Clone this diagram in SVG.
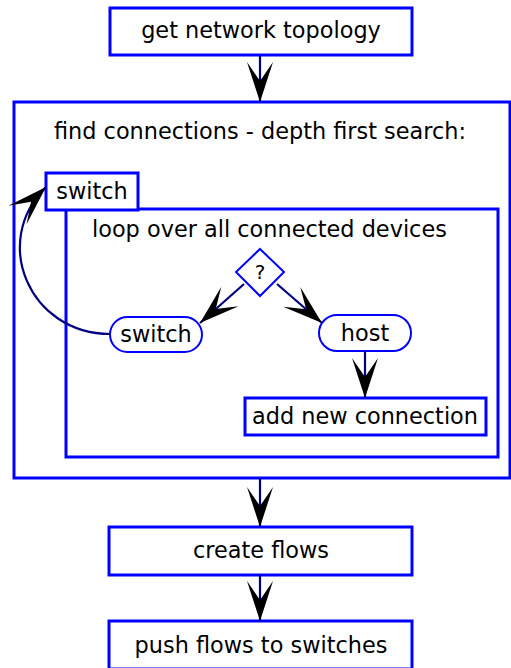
<svg xmlns="http://www.w3.org/2000/svg" width="511" height="668" viewBox="0 0 511 668">
<defs>
<style>
.box{fill:#fff;stroke:#0000ff;stroke-width:3}
.frame{fill:none;stroke:#0000ff;stroke-width:3}
.pill{fill:#fff;stroke:#0000ff;stroke-width:2}
.t{font-family:"DejaVu Sans",sans-serif;font-size:22.4px;fill:#000;dominant-baseline:central}
.c{text-anchor:middle}
.q{font-size:20px}
.edge{fill:none;stroke:#000080;stroke-width:2.2;marker-end:url(#ah)}
</style>
<marker id="ah" markerUnits="userSpaceOnUse" markerWidth="44" markerHeight="28" refX="40" refY="13" orient="auto" overflow="visible">
<path d="M0,0 L40,13 L0,26 L19,13 Z" fill="#000"/>
</marker>
</defs>
<rect width="511" height="668" fill="#fff"/>
<g id="outer"><rect class="frame" x="14" y="102" width="496" height="376"/><text class="t c" x="260" y="131">find connections - depth first search:</text></g>
<g id="loop"><rect class="frame" x="66" y="209" width="432" height="248"/><text class="t" x="92" y="229">loop over all connected devices</text></g>
<g id="top"><rect class="box" x="110" y="8" width="302" height="47"/><text class="t c" x="261" y="30">get network topology</text></g>
<g id="switchbox"><rect class="box" x="46" y="173" width="92" height="37"/><text class="t c" x="92" y="191">switch</text></g>
<g id="decision"><polygon class="pill" points="260,249 284,272 260,296 236,272"/><text class="t c q" x="260" y="272">?</text></g>
<g id="switchpill"><rect class="pill" x="110" y="317" width="92" height="35" rx="17.5"/><text class="t c" x="156" y="334">switch</text></g>
<g id="hostpill"><rect class="pill" x="319" y="315" width="92" height="36" rx="18"/><text class="t c" x="365" y="333">host</text></g>
<g id="addconn"><rect class="box" x="245" y="398" width="241" height="37"/><text class="t c" x="365" y="416">add new connection</text></g>
<g id="create"><rect class="box" x="109" y="527" width="303" height="48"/><text class="t c" x="261" y="550">create flows</text></g>
<g id="push"><rect class="box" x="109" y="621" width="303" height="48"/><text class="t c" x="261" y="645">push flows to switches</text></g>
<g id="connectors">
<path class="edge" d="M260,56 V102"/>
<path class="edge" d="M244,284 L200,323"/>
<path class="edge" d="M277,284 L322,323"/>
<path class="edge" d="M365,351 V398"/>
<path class="edge" d="M110,334 C30,334 -10,242 46,187"/>
<path class="edge" d="M260,478 V527"/>
<path class="edge" d="M260,575 V621"/>
</g>
</svg>
